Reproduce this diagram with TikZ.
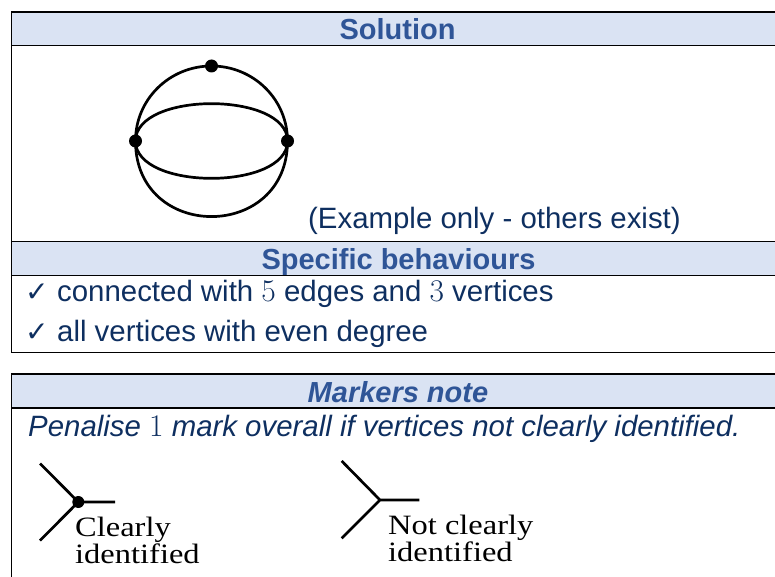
\documentclass[tikz,border=0pt]{standalone}
\usepackage[no-math]{fontspec}
\setmainfont{Liberation Sans}
\newfontfamily\tickfont{DejaVu Sans}
\newfontfamily\digitfont{Latin Modern Roman}
\newfontfamily\handfont[FakeStretch=1.16]{Liberation Serif}
\newcommand\dg[1]{{\digitfont\upshape\fontsize{31.5pt}{34pt}\selectfont #1}}
\usepackage{xcolor}
\usetikzlibrary{positioning}
\definecolor{hdrfill}{HTML}{DAE3F3}
\definecolor{hdrtext}{HTML}{2F5597}
\definecolor{navy}{HTML}{0E2F60}

\begin{document}
\begin{tikzpicture}[x=1pt,y=-1pt,
  rule/.style={line width=1.6pt,line cap=rect},
  hdr/.style={font=\fontsize{29pt}{34pt}\selectfont\bfseries,text=hdrtext,inner sep=0,anchor=base},
  body/.style={font=\fontsize{29.4pt}{34pt}\selectfont,text=navy,inner sep=0,anchor=base west},
  tick/.style={font=\tickfont\fontsize{28pt}{32pt}\selectfont,text=navy,inner sep=0,anchor=base west},
  vtx/.style={circle,fill,inner sep=0,minimum size=13pt},
  edge/.style={line width=2.7pt},
  hand/.style={font=\handfont\fontsize{28pt}{28pt}\selectfont,inner sep=0,anchor=base west}]
\useasboundingbox (0,0) rectangle (775,577);
% header bands and table rules
\foreach \ya/\yb in {12.3/45.5,241.5/275.5,374/408}
  \fill[hdrfill] (11.3,\ya) rectangle (775,\yb);
\foreach \y in {12.3,45.5,241.5,275.5,352.5,374,408}
  \draw[rule] (11.3,\y) -- (775,\y);
\draw[rule] (11.3,12.3) -- (11.3,352.5);
\draw[rule] (11.3,374) -- (11.3,577);
\fill[white] (115,46.1) rectangle (307,237);

% first table
\node[hdr] (sol) at (397.5,39.5) {Solution};
\node[vtx] (vT) at (211.5,66) {};
\node[vtx] (vL) at (135.5,141) {};
\node[vtx] (vR) at (287.5,141) {};
\draw[edge] (vL.center) to[out=90,in=180] (vT.center);
\draw[edge] (vT.center) to[out=0,in=90] (vR.center);
\draw[edge] (vL.center) to[out=-90,in=-90,looseness=1.7] (vR.center);
\draw[edge] (vL.center) to[out=90,in=90,looseness=0.84] (vR.center);
\draw[edge] (vL.center) to[out=-90,in=-90,looseness=0.84] (vR.center);
\node[body] (ex) at (308,229) {(Example only - others exist)};

\node[hdr] (spec) at (398.5,269.5) {Specific behaviours};
\node[tick] (t1) at (25,301.5) {✓};
\node[body] (b1) at (57,301.5) {connected with \dg{5} edges and \dg{3} vertices};
\node[tick] (t2) at (25,341) {✓};
\node[body] (b2) at (57,341) {all vertices with even degree};

% second table
\node[hdr,font=\fontsize{29pt}{34pt}\selectfont\bfseries\itshape] (mn) at (398,402) {Markers note};
\node[body,font=\fontsize{29.4pt}{34pt}\selectfont\itshape] (pen) at (28,436) {Penalise \dg{1} mark overall if vertices not clearly identified.};

% vertex with a dot
\node[vtx,minimum size=12pt] (jA) at (78.3,502) {};
\coordinate (a1) at (40,463.5);
\coordinate (a2) at (115,502);
\coordinate (a3) at (40,540.5);
\draw[edge] (a1) -- (jA.center) -- (a2) (jA.center) -- (a3);
\node[hand] (clA) at (75,536) {Clearly};
\node[hand] (idA) at (75,563) {identified};

% vertex without a dot
\coordinate (jB) at (380,500);
\coordinate (b1) at (341.7,461);
\coordinate (b2) at (419.3,500);
\coordinate (b3) at (341.7,538.3);
\draw[edge] (b1) -- (jB) -- (b2) (jB) -- (b3);
\node[hand] (clB) at (388,534) {Not clearly};
\node[hand] (idB) at (388,561.5) {identified};
\end{tikzpicture}
\end{document}
